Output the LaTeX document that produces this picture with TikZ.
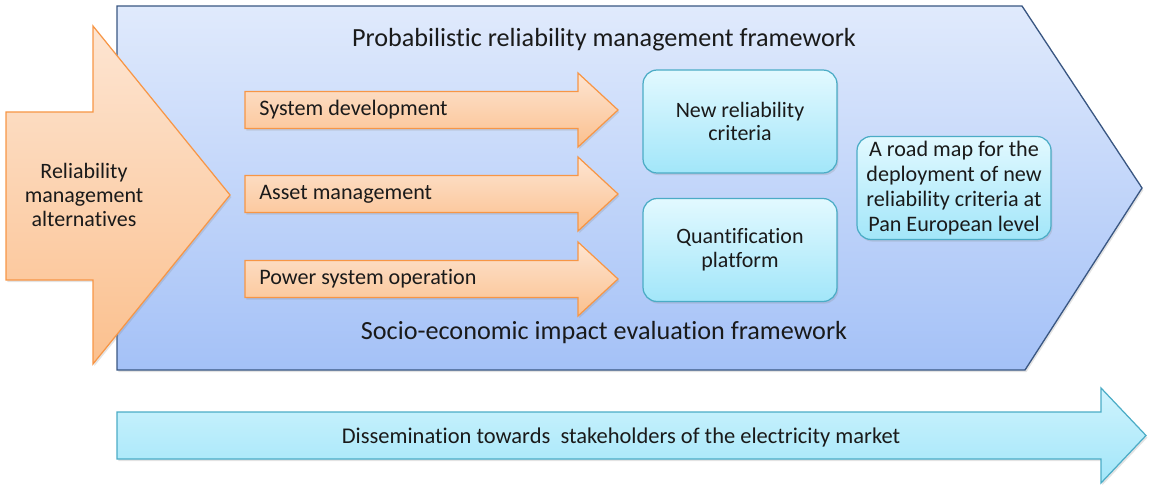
\documentclass[tikz,border=0pt]{standalone}
\usepackage{fontspec}
\setmainfont{Carlito}[Ligatures=NoCommon]
\usetikzlibrary{positioning,shadows}
\definecolor{frameblue}{HTML}{3A5782}
\definecolor{frametop}{HTML}{E0EAFC}
\definecolor{framebottom}{HTML}{A4C1F7}
\definecolor{orangeline}{HTML}{F79646}
\definecolor{orangetop}{HTML}{FDE5D2}
\definecolor{orangebottom}{HTML}{FBC08E}
\definecolor{cyanline}{HTML}{4BACC6}
\definecolor{cyantop}{HTML}{E2F9FF}
\definecolor{cyanbottom}{HTML}{A2E6F9}
\definecolor{texdark}{HTML}{1A1A1A}

\tikzset{
  softshadow/.style={drop shadow={opacity=0.22, shadow xshift=0.8pt, shadow yshift=-1.2pt}},
  framework/.style={draw=frameblue, line width=0.75pt, top color=frametop, bottom color=framebottom, softshadow},
  orangearrow/.style={draw=orangeline, line width=0.7pt, top color=orangetop, bottom color=orangebottom, softshadow},
  orangelabel/.style={anchor=west, inner sep=0pt, text=texdark, font=\fontsize{12.6}{15}\selectfont},
  critbox/.style={draw=cyanline, line width=0.7pt, rounded corners=8pt, top color=cyantop, bottom color=cyanbottom,
    minimum width=3.88cm, minimum height=2.06cm, align=center, text=texdark, font=\fontsize{12.5}{13.6}\selectfont, softshadow},
  disarrow/.style={draw=cyanline, line width=0.7pt, top color=cyantop!70!cyanbottom, bottom color=cyanbottom, softshadow},
  heading/.style={text=texdark, font=\fontsize{14.9}{17}\selectfont}
}

\begin{document}
\begin{tikzpicture}[x=0.02cm, y=-0.02cm]
  \useasboundingbox (0,0) rectangle (1151,486);
  % framework chevron
  \draw[framework] (117,6) -- (1022,6) -- (1142,188) -- (1025,370) -- (117,370) -- cycle;
  \node[heading] (probframe) at (604,40) {Probabilistic reliability management framework};
  \node[heading] (socioframe) at (604,333) {Socio-economic impact evaluation framework};
  % alternatives arrow
  \draw[orangearrow] (6,112) -- (93,112) -- (93,26) -- (230,195) -- (93,364) -- (93,280) -- (6,280) -- cycle;
  \node[align=center, text=texdark, font=\fontsize{12.5}{13.6}\selectfont] (alternatives) at (84,195)
    {Reliability\\management\\alternatives};
  % three activity arrows
  \foreach \yc/\lbl/\nm in {110/System development/sysdev, 194/Asset management/asset, 279/Power system operation/operation}{
    \draw[orangearrow] (245,\yc-18.5) -- (578,\yc-18.5) -- (578,\yc-37) -- (618,\yc) -- (578,\yc+37) -- (578,\yc+18.5) -- (245,\yc+18.5) -- cycle;
    \node[orangelabel] (\nm) at (259,\yc) {\lbl};
  }
  % outcome boxes
  \node[critbox] (criteria) at (740,121.5) {New reliability\\criteria};
  \node[critbox] (platform) at (740,250) {Quantification\\platform};
  \node[critbox, font=\fontsize{12.6}{14.2}\selectfont, inner sep=1pt] (roadmap) at (954,188)
    {A road map for the\\deployment of new\\reliability criteria at\\Pan European level};
  % dissemination arrow
  \draw[disarrow] (117,412) -- (1101,412) -- (1101,388) -- (1146,435.5) -- (1101,483) -- (1101,459) -- (117,459) -- cycle;
  \node[text=texdark, font=\fontsize{12.8}{15}\selectfont] (dissemination) at (621,437)
    {Dissemination towards\ \ stakeholders of the electricity market};
\end{tikzpicture}
\end{document}
